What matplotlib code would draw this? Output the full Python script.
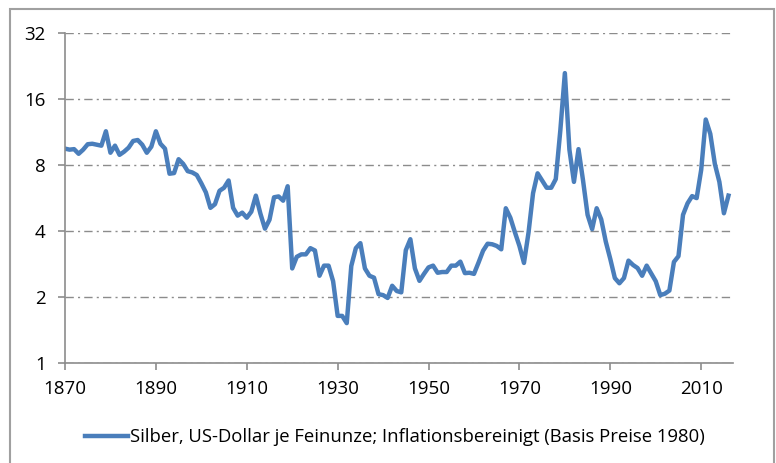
import numpy as np
import matplotlib.pyplot as plt
from matplotlib.patches import Rectangle
from matplotlib.ticker import FixedLocator, FixedFormatter, NullLocator

# ===== Daten =====
years = list(range(1870, 2017))

silver = [
    9.5, 9.4, 9.45, 9.0, 9.4, 9.95, 10.0, 9.9, 9.8, 11.4,          # 1870-1879
    9.1, 9.8, 8.9, 9.2, 9.6, 10.3, 10.4, 9.9, 9.1, 9.7,            # 1880-1889
    11.4, 10.0, 9.5, 7.3, 7.35, 8.5, 8.1, 7.5, 7.4, 7.2,           # 1890-1899
    6.6, 6.0, 5.1, 5.3, 6.1, 6.3, 6.8, 5.1, 4.7, 4.85,             # 1900-1909
    4.6, 4.9, 5.8, 4.8, 4.1, 4.5, 5.7, 5.75, 5.5, 6.4,             # 1910-1919
    2.7, 3.05, 3.13, 3.13, 3.34, 3.26, 2.5, 2.78, 2.78, 2.36,      # 1920-1929
    1.64, 1.64, 1.52, 2.77, 3.34, 3.52, 2.7, 2.5, 2.45, 2.06,      # 1930-1939
    2.04, 1.98, 2.25, 2.13, 2.1, 3.27, 3.67, 2.7, 2.37, 2.55,      # 1940-1949
    2.73, 2.78, 2.58, 2.6, 2.6, 2.78, 2.78, 2.9, 2.57, 2.58,       # 1950-1959
    2.55, 2.87, 3.25, 3.5, 3.48, 3.42, 3.3, 5.08, 4.6, 3.95,       # 1960-1969
    3.42, 2.86, 3.93, 5.95, 7.33, 6.8, 6.3, 6.3, 6.9, 11.5,        # 1970-1979
    21.0, 9.4, 6.7, 9.45, 6.8, 4.74, 4.08, 5.08, 4.52, 3.58,       # 1980-1989
    2.98, 2.44, 2.31, 2.44, 2.93, 2.8, 2.71, 2.5, 2.78, 2.56,      # 1990-1999
    2.36, 2.04, 2.07, 2.14, 2.89, 3.07, 4.74, 5.35, 5.77, 5.65,    # 2000-2009
    7.6, 12.9, 11.1, 8.1, 6.7, 4.82, 5.8,                          # 2010-2016
]

y_ticks = [1, 2, 4, 8, 16, 32]
x_ticks = list(range(1870, 2011, 20))
label = "Silber, US-Dollar je Feinunze; Inflationsbereinigt (Basis Preise 1980)"

# ===== Grafik =====
plt.rcParams["font.family"] = ["Open Sans", "DejaVu Sans"]

fig = plt.figure(figsize=(7.76, 4.63), dpi=100)
ax = fig.add_axes([65 / 776, 100 / 463, 668 / 776, 330 / 463])

line_color = "#4a7ebb"
ax.plot(years, silver, color=line_color, linewidth=3.2, solid_joinstyle="round",
        label=label)

ax.set_yscale("log", base=2)
ax.set_ylim(1, 32)
ax.yaxis.set_major_locator(FixedLocator(y_ticks))
ax.yaxis.set_major_formatter(FixedFormatter([str(v) for v in y_ticks]))
ax.yaxis.set_minor_locator(NullLocator())

ax.set_xlim(1870, 2017)
ax.set_xticks(x_ticks)
ax.set_xticklabels([str(x) for x in x_ticks])

ax.grid(axis="y", color="#8c8c8c", linestyle=(0, (6, 3, 1.5, 3)), linewidth=1.0)
ax.set_axisbelow(True)

for side in ["top", "right"]:
    ax.spines[side].set_visible(False)
for side in ["left", "bottom"]:
    ax.spines[side].set_color("#8c8c8c")
    ax.spines[side].set_linewidth(1.2)

ax.tick_params(axis="both", colors="#8c8c8c", length=5, width=1.2,
               labelcolor="black", labelsize=13.5)
ax.tick_params(axis="y", pad=9)
ax.tick_params(axis="x", pad=7)

leg = fig.legend(loc="center", bbox_to_anchor=(395 / 776, 1 - 437 / 463),
                 frameon=False, fontsize=13.3, handlelength=2.3,
                 handletextpad=0.1)

# Rahmen um das Diagramm
fig.patches.append(Rectangle((10 / 776, -0.01), 764 / 776, 1 - 9 / 463 + 0.01,
                             transform=fig.transFigure, fill=False,
                             edgecolor="#a0a0a0", linewidth=1.5))

fig.savefig("out.png", dpi=100)
